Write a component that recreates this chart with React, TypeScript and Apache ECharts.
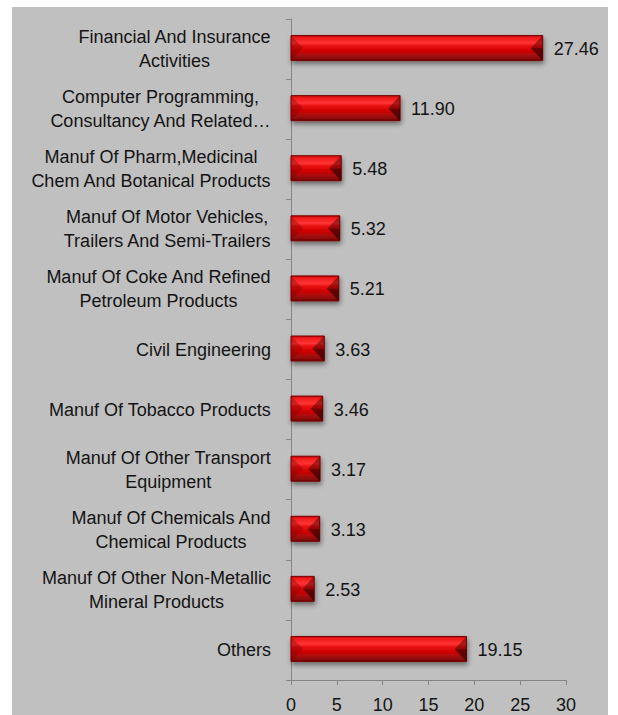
import React, { useEffect, useRef } from 'react';
import * as echarts from 'echarts';

const categories = [
  'Financial And Insurance\nActivities',
  'Computer Programming,\nConsultancy And Related…',
  'Manuf Of Pharm,Medicinal\nChem And Botanical Products',
  'Manuf Of Motor Vehicles,\nTrailers And Semi-Trailers',
  'Manuf Of Coke And Refined\nPetroleum Products',
  'Civil Engineering',
  'Manuf Of Tobacco Products',
  'Manuf Of Other Transport\nEquipment',
  'Manuf Of Chemicals And\nChemical Products',
  'Manuf Of Other Non-Metallic\nMineral Products',
  'Others',
];
const values = [27.46, 11.9, 5.48, 5.32, 5.21, 3.63, 3.46, 3.17, 3.13, 2.53, 19.15];
const xMin = 0;
const xMax = 30;
const xInterval = 5;

const FONT = 'Liberation Sans';
const TEXT = '#141414';
const AXIS = '#858585';

export default function App() {
  const ref = useRef<HTMLDivElement>(null);
  useEffect(() => {
    if (!ref.current) return;
    const chart = echarts.init(ref.current, undefined, { renderer: 'svg' });
    const bodyFill = new echarts.graphic.LinearGradient(0, 0, 0, 1, [
      { offset: 0, color: '#b80000' },
      { offset: 0.08, color: '#ee1a1a' },
      { offset: 0.3, color: '#ff3434' },
      { offset: 0.42, color: '#e61010' },
      { offset: 0.62, color: '#d00000' },
      { offset: 0.78, color: '#a80c0c' },
      { offset: 0.92, color: '#8a0808' },
      { offset: 1, color: '#6a0000' },
    ]);
    chart.setOption({
      animation: false,
      backgroundColor: '#c0c0c0',
      grid: { left: 279, right: 42, top: 12, bottom: 35, containLabel: false, outerBoundsMode: 'none' },
      xAxis: {
        type: 'value',
        min: xMin,
        max: xMax,
        interval: xInterval,
        axisLine: { show: true, lineStyle: { color: AXIS, width: 1 } },
        axisTick: { show: true, length: 5, lineStyle: { color: AXIS } },
        splitLine: { show: false },
        axisLabel: { fontSize: 18, lineHeight: 18, fontFamily: FONT, color: TEXT, margin: 16 },
      },
      yAxis: {
        type: 'category',
        inverse: true,
        data: categories,
        axisLine: { show: true, lineStyle: { color: AXIS, width: 1 } },
        axisTick: { show: true, length: 5, lineStyle: { color: AXIS } },
        axisLabel: {
          margin: 20,
          fontSize: 18,
          lineHeight: 24,
          fontFamily: FONT,
          color: TEXT,
          formatter: (v: string) => v.split('\n').map((l) => `{c|${l}}`).join('\n'),
          rich: {
            c: { align: 'center', fontSize: 18, lineHeight: 24, fontFamily: FONT, color: TEXT },
          },
        },
      },
      series: [
        {
          type: 'custom',
          encode: { x: 0, y: 1 },
          data: values.map((v, i) => [v, i]),
          renderItem: (params: any, api: any) => {
            const v = api.value(0);
            const idx = api.value(1);
            const p0 = api.coord([0, idx]);
            const p1 = api.coord([v, idx]);
            const h = 25;
            const x0 = p0[0];
            const x1 = p1[0];
            const cy = p0[1] - 1;
            const y0 = cy - h / 2;
            const y1 = cy + h / 2;
            const w = x1 - x0;
            const b = Math.min(h / 2, w / 2, 12);
            return {
              type: 'group',
              children: [
                {
                  type: 'rect',
                  shape: { x: x0, y: y0, width: w, height: h },
                  style: {
                    fill: bodyFill,
                    stroke: '#7a0000',
                    lineWidth: 1,
                    shadowBlur: 5,
                    shadowOffsetX: 1,
                    shadowOffsetY: 3,
                    shadowColor: 'rgba(0,0,0,0.45)',
                  },
                },
                {
                  type: 'polygon',
                  shape: { points: [[x0, y0], [x0 + b, cy], [x0, y1]] },
                  style: { fill: 'rgba(110,0,0,0.32)' },
                },
                {
                  type: 'polygon',
                  shape: { points: [[x1, y0], [x1 - b, cy], [x1, cy]] },
                  style: { fill: 'rgba(70,0,0,0.45)' },
                },
                {
                  type: 'polygon',
                  shape: { points: [[x1, cy], [x1 - b, cy], [x1, y1]] },
                  style: { fill: 'rgba(30,0,0,0.6)' },
                },
                {
                  type: 'text',
                  style: {
                    text: v.toFixed(2),
                    x: x1 + 11,
                    y: cy + 1,
                    align: 'left',
                    verticalAlign: 'middle',
                    fontSize: 18,
                    fontFamily: FONT,
                    fill: TEXT,
                  },
                },
              ],
            };
          },
        },
      ],
    });
    return () => chart.dispose();
  }, []);
  return (
    <div style={{ position: 'absolute', left: 0, top: 0, width: 618, height: 715, background: '#ffffff', overflow: 'hidden' }}>
      <div ref={ref} style={{ position: 'absolute', left: 12, top: 7, width: 596, height: 708 }} />
    </div>
  );
}
